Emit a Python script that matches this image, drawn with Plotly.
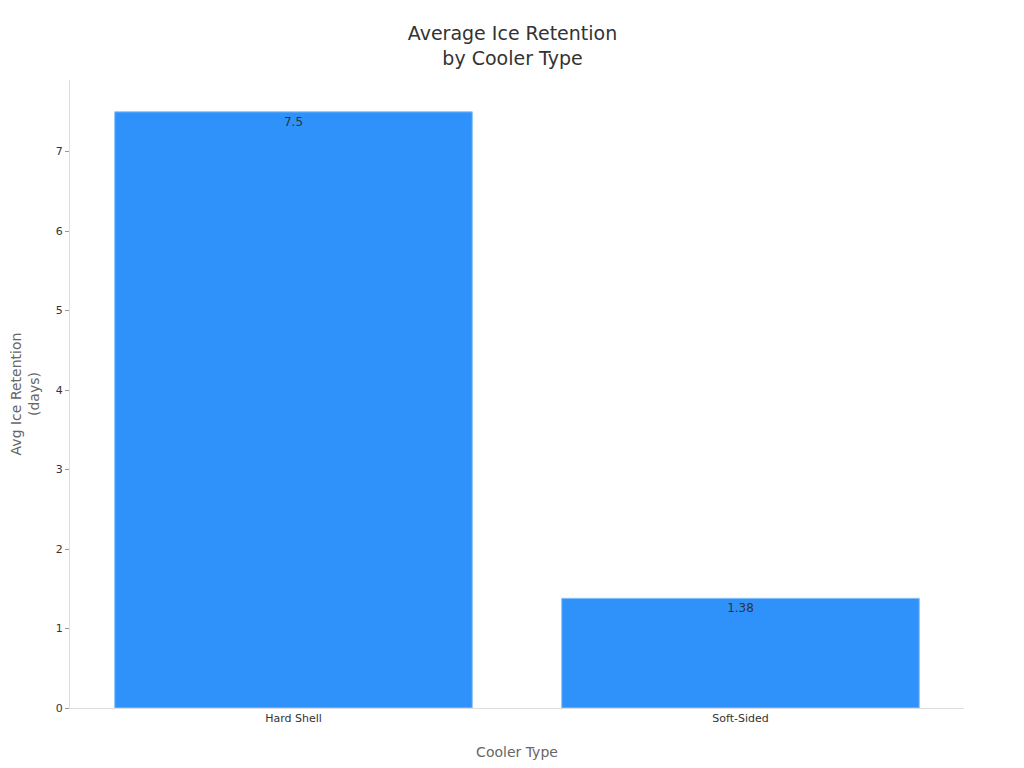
import plotly.graph_objects as go

categories = ["Hard Shell", "Soft-Sided"]
values = [7.5, 1.38]
labels = ["7.5", "1.38"]

fig = go.Figure(go.Bar(
    x=categories, y=values, text=labels, textposition="inside",
    insidetextanchor="end", textfont=dict(color="#333", size=12),
    marker=dict(color="#2e92fa", line=dict(color="#8cc4fc", width=1)),
    width=0.8,
))
fig.update_layout(
    width=1024, height=768,
    paper_bgcolor="white", plot_bgcolor="white",
    font=dict(family="DejaVu Sans", color="#333"),
    title=dict(text="Average Ice Retention<br>by Cooler Type", x=0.495, xref="paper", xanchor="center",
               y=0.958, font=dict(size=19, color="#333")),
    margin=dict(l=62, r=68, t=72, b=68),
    xaxis=dict(title=dict(text="Cooler Type", font=dict(size=14, color="#666"), standoff=22),
               showline=True, linecolor="#ddd", tickfont=dict(size=11)),
    yaxis=dict(title=dict(text="Avg Ice Retention<br>(days)", font=dict(size=14, color="#666"), standoff=22),
               automargin=False,
               showline=True, linecolor="#ddd", showgrid=False, ticks="outside",
               ticklen=4, tickcolor="#999", range=[0, 7.9], dtick=1, zeroline=False,
               tickfont=dict(size=11)),
    bargap=0.2,
)
fig.write_html("out.html")
